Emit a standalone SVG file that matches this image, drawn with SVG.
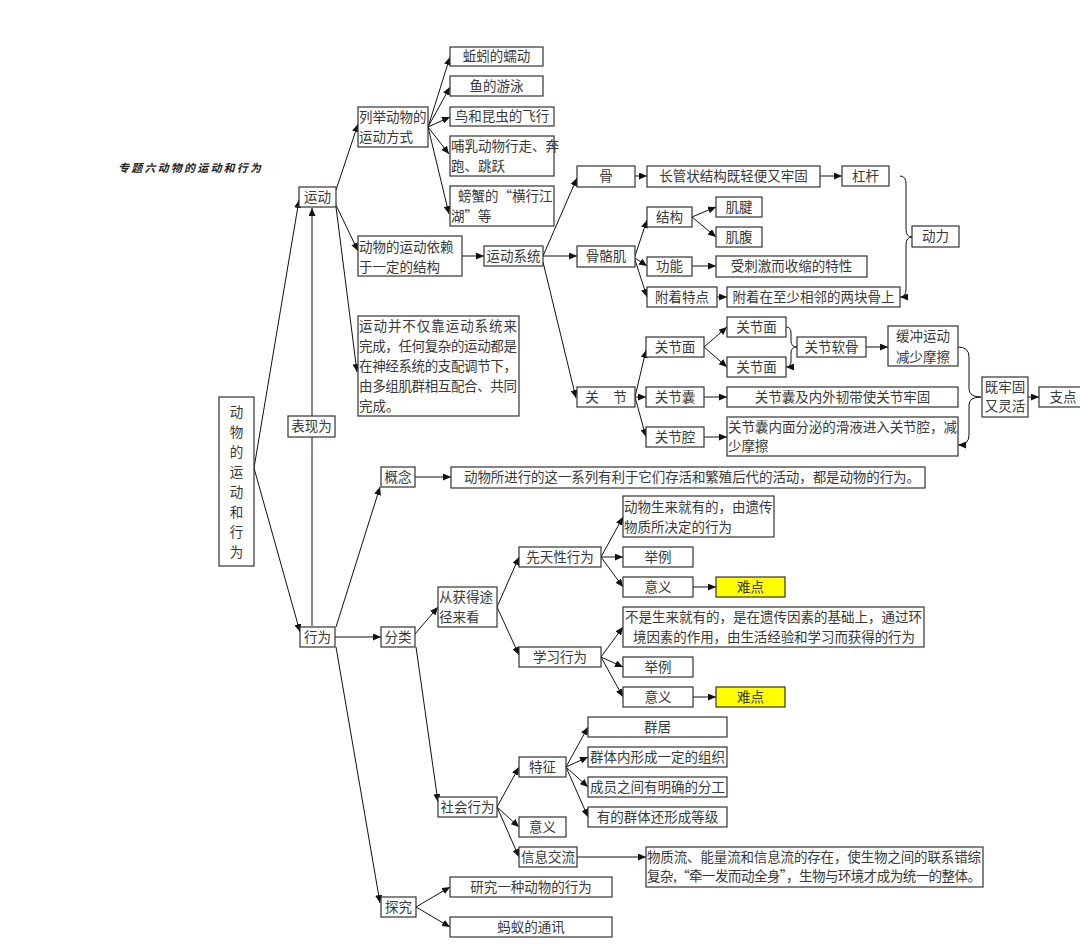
<svg xmlns="http://www.w3.org/2000/svg" width="1080" height="948" viewBox="0 0 1080 948">
<defs>
<marker id="ar" markerWidth="8" markerHeight="7" refX="8" refY="3.5" orient="auto" markerUnits="userSpaceOnUse"><path d="M0,0 L8,3.5 L0,7 z" fill="#111"/></marker>
<style>
rect{fill:#fff;stroke:#333;stroke-width:1.2}
rect.y{fill:#ffff00}
text{font-family:"Noto Sans CJK SC","Noto Sans",sans-serif;font-size:13.5px;fill:#383838}
.c{text-anchor:middle}
#conn path{fill:none;stroke:#111;stroke-width:1;marker-end:url(#ar)}
#conn path.nb{marker-end:none}
.br{fill:none;stroke:#222;stroke-width:1.1}
</style>
</defs>
<rect x="0" y="0" width="1080" height="948" style="fill:#fff;stroke:none"/>
<text x="118" y="172" style="font-size:11px;letter-spacing:2.2px;font-style:italic;font-weight:bold;fill:#222">专题六动物的运动和行为</text>

<g id="conn">
<path d="M254,468 L299,200"/>
<path d="M254,468 L300,632"/>
<path d="M312,626 L312,208"/>
<path d="M336,190 L358,124"/>
<path d="M336,205 L358,251"/>
<path d="M336,207 L357,372"/>
<path d="M428,127 L450,57"/>
<path d="M428,127 L450,87"/>
<path d="M428,127 L450,117"/>
<path d="M428,127 L449,154"/>
<path d="M428,127 L449,214"/>
<path d="M462,256 L484,256"/>
<path d="M543,256 L577,178"/>
<path d="M543,256 L577,256"/>
<path d="M543,262 L576,398"/>
<path d="M635,176 L647,176"/>
<path d="M820,176 L842,176"/>
<path d="M635,256 L647,220"/>
<path d="M635,258 L647,266"/>
<path d="M635,260 L647,297"/>
<path d="M692,217 L716,207"/>
<path d="M692,217 L716,237"/>
<path d="M692,266 L716,266"/>
<path d="M717,297 L727,297"/>
<path d="M635,397 L646,350"/>
<path d="M635,397 L646,397"/>
<path d="M635,397 L646,437"/>
<path d="M704,347 L727,327"/>
<path d="M704,347 L727,367"/>
<path d="M866,347 L888,347"/>
<path d="M704,397 L727,397"/>
<path d="M704,437 L727,437"/>
<path d="M1028,397 L1039,397"/>
<path d="M336,627 L380,487"/>
<path d="M335,637 L381,637"/>
<path d="M336,647 L380,903"/>
<path d="M415,477 L451,477"/>
<path d="M415,634 L438,607"/>
<path d="M416,647 L438,802"/>
<path d="M497,607 L519,557"/>
<path d="M497,607 L519,655"/>
<path d="M601,557 L623,517"/>
<path d="M601,557 L623,557"/>
<path d="M601,557 L623,587"/>
<path d="M601,657 L623,627"/>
<path d="M601,657 L623,667"/>
<path d="M601,657 L623,697"/>
<path d="M693,587 L716,587"/>
<path d="M693,697 L716,697"/>
<path d="M497,807 L519,767"/>
<path d="M497,807 L519,827"/>
<path d="M497,807 L519,857"/>
<path d="M566,767 L588,727"/>
<path d="M566,767 L588,757"/>
<path d="M566,767 L588,787"/>
<path d="M566,767 L588,817"/>
<path d="M577,857 L646,857"/>
<path d="M416,907 L450,887"/>
<path d="M416,907 L450,927"/>
<path class="br" d="M900,176 Q906,176 906,184 L906,229 Q906,237 912,237 Q906,237 906,245 L906,289 Q906,297 900,297"/>
<path class="br" d="M786,327 Q791,327 791,333 L791,341 Q791,347 797,347 Q791,347 791,353 L791,361 Q791,367 786,367"/>
<path class="br" d="M958,347 Q969,347 969,357 L969,389 Q969,397 981,397 Q969,397 969,405 L969,435 Q969,445 958,445"/>
</g>

<g id="n_root"><rect x="219" y="397" width="35" height="169"/>
<text class="c" x="236.5" y="417">动</text><text class="c" x="236.5" y="437">物</text><text class="c" x="236.5" y="457">的</text><text class="c" x="236.5" y="477">运</text><text class="c" x="236.5" y="497">动</text><text class="c" x="236.5" y="517">和</text><text class="c" x="236.5" y="537">行</text><text class="c" x="236.5" y="557">为</text></g>
<g id="n_biaoxian"><rect x="288" y="416" width="47" height="21"/><text class="c" x="311.5" y="431">表现为</text></g>
<g id="n_yundong"><rect x="299" y="187" width="37" height="20"/><text class="c" x="317.5" y="202">运动</text></g>
<g id="n_xingwei"><rect x="300" y="627" width="35" height="20"/><text class="c" x="317.5" y="642">行为</text></g>
<g id="n_liju"><rect x="358" y="107" width="70" height="40"/><text x="359" y="122">列举动物的</text><text x="359" y="142">运动方式</text></g>
<g id="n_qiuyin"><rect x="450" y="47" width="93" height="19"/><text class="c" x="496.5" y="61">蚯蚓的蠕动</text></g>
<g id="n_yu"><rect x="450" y="76" width="93" height="20"/><text class="c" x="496.5" y="91">鱼的游泳</text></g>
<g id="n_niao"><rect x="450" y="107" width="104" height="19"/><text class="c" x="502" y="121">鸟和昆虫的飞行</text></g>
<g id="n_buru"><rect x="450" y="136" width="104" height="40"/><text x="451" y="151">哺乳动物行走、奔</text><text x="451" y="171">跑、跳跃</text></g>
<g id="n_pangxie"><rect x="450" y="186" width="104" height="40"/><text x="458" y="201">螃蟹的“横行江</text><text x="451" y="221">湖”等</text></g>
<g id="n_yilai"><rect x="358" y="236" width="104" height="40"/><text x="359" y="252">动物的运动依赖</text><text x="359" y="272">于一定的结构</text></g>
<g id="n_bingfei"><rect x="358" y="316" width="161" height="100"/>
<text x="359" y="331" textLength="158" lengthAdjust="spacing">运动并不仅靠运动系统来</text>
<text x="359" y="351" textLength="158" lengthAdjust="spacing">完成，任何复杂的运动都是</text>
<text x="359" y="371" textLength="158" lengthAdjust="spacing">在神经系统的支配调节下，</text>
<text x="359" y="391" textLength="158" lengthAdjust="spacing">由多组肌群相互配合、共同</text>
<text x="359" y="411">完成。</text></g>
<g id="n_xitong"><rect x="484" y="246" width="59" height="20"/><text class="c" x="513.5" y="261">运动系统</text></g>
<g id="n_gu"><rect x="577" y="166" width="58" height="21"/><text class="c" x="606" y="181">骨</text></g>
<g id="n_changguan"><rect x="647" y="166" width="173" height="21"/><text class="c" x="733.5" y="181">长管状结构既轻便又牢固</text></g>
<g id="n_ganggan"><rect x="842" y="166" width="47" height="20"/><text class="c" x="865.5" y="181">杠杆</text></g>
<g id="n_gugeji"><rect x="577" y="246" width="58" height="21"/><text class="c" x="606" y="261">骨骼肌</text></g>
<g id="n_jiegou"><rect x="647" y="207" width="45" height="20"/><text class="c" x="669.5" y="222">结构</text></g>
<g id="n_jijian"><rect x="716" y="197" width="46" height="20"/><text class="c" x="739" y="212">肌腱</text></g>
<g id="n_jifu"><rect x="716" y="227" width="46" height="20"/><text class="c" x="739" y="242">肌腹</text></g>
<g id="n_gongneng"><rect x="647" y="257" width="45" height="19"/><text class="c" x="669.5" y="271">功能</text></g>
<g id="n_shouci"><rect x="716" y="256" width="151" height="21"/><text class="c" x="791.5" y="271">受刺激而收缩的特性</text></g>
<g id="n_fuzhe"><rect x="647" y="287" width="70" height="20"/><text class="c" x="682" y="302">附着特点</text></g>
<g id="n_fuzhezai"><rect x="727" y="287" width="173" height="20"/><text class="c" x="813.5" y="302">附着在至少相邻的两块骨上</text></g>
<g id="n_dongli"><rect x="912" y="226" width="47" height="21"/><text class="c" x="935.5" y="241">动力</text></g>
<g id="n_guanjie"><rect x="577" y="387" width="58" height="20"/><text class="c" x="592" y="402">关</text><text class="c" x="620" y="402">节</text></g>
<g id="n_gjm1"><rect x="646" y="337" width="58" height="20"/><text class="c" x="675" y="352">关节面</text></g>
<g id="n_gjn"><rect x="646" y="387" width="58" height="20"/><text class="c" x="675" y="402">关节囊</text></g>
<g id="n_gjq"><rect x="646" y="427" width="58" height="20"/><text class="c" x="675" y="442">关节腔</text></g>
<g id="n_gjm2"><rect x="727" y="317" width="59" height="20"/><text class="c" x="756.5" y="332">关节面</text></g>
<g id="n_gjm3"><rect x="727" y="357" width="59" height="20"/><text class="c" x="756.5" y="372">关节面</text></g>
<g id="n_rg"><rect x="797" y="337" width="69" height="20"/><text class="c" x="831.5" y="352">关节软骨</text></g>
<g id="n_hc"><rect x="888" y="326" width="70" height="40"/><text class="c" x="923" y="341">缓冲运动</text><text class="c" x="923" y="362">减少摩擦</text></g>
<g id="n_gjnj"><rect x="727" y="387" width="231" height="20"/><text class="c" x="842.5" y="402">关节囊及内外韧带使关节牢固</text></g>
<g id="n_hy"><rect x="727" y="417" width="231" height="39"/><text x="728" y="432" textLength="229" lengthAdjust="spacing">关节囊内面分泌的滑液进入关节腔，减</text><text x="728" y="451">少摩擦</text></g>
<g id="n_jlg"><rect x="982" y="377" width="46" height="40"/><text class="c" x="1005" y="392">既牢固</text><text class="c" x="1005" y="411">又灵活</text></g>
<g id="n_zd"><rect x="1039" y="387" width="50" height="20"/><text class="c" x="1063" y="402">支点</text></g>

<g id="n_gainian"><rect x="381" y="467" width="34" height="20"/><text class="c" x="398" y="482">概念</text></g>
<g id="n_gnl"><rect x="451" y="467" width="474" height="21"/><text x="464" y="482" textLength="456" lengthAdjust="spacing">动物所进行的这一系列有利于它们存活和繁殖后代的活动，都是动物的行为。</text></g>
<g id="n_fenlei"><rect x="381" y="627" width="34" height="20"/><text class="c" x="398" y="642">分类</text></g>
<g id="n_tujing"><rect x="438" y="587" width="59" height="40"/><text x="439" y="602">从获得途</text><text x="439" y="622">径来看</text></g>
<g id="n_xiantian"><rect x="519" y="547" width="82" height="20"/><text class="c" x="560" y="562">先天性行为</text></g>
<g id="n_xuexi"><rect x="519" y="647" width="82" height="20"/><text class="c" x="560" y="662">学习行为</text></g>
<g id="n_sl"><rect x="623" y="496" width="151" height="41"/><text x="624" y="512">动物生来就有的，由遗传</text><text x="624" y="532">物质所决定的行为</text></g>
<g id="n_jl1"><rect x="623" y="547" width="70" height="20"/><text class="c" x="658" y="562">举例</text></g>
<g id="n_yy1"><rect x="623" y="577" width="70" height="20"/><text class="c" x="658" y="592">意义</text></g>
<g id="n_nd1"><rect class="y" x="716" y="577" width="69" height="20"/><text class="c" x="750.5" y="592">难点</text></g>
<g id="n_bs"><rect x="623" y="607" width="301" height="40"/><text x="625" y="622" textLength="297" lengthAdjust="spacing">不是生来就有的，是在遗传因素的基础上，通过环</text><text x="633" y="642" textLength="282" lengthAdjust="spacing">境因素的作用，由生活经验和学习而获得的行为</text></g>
<g id="n_jl2"><rect x="623" y="657" width="70" height="20"/><text class="c" x="658" y="672">举例</text></g>
<g id="n_yy2"><rect x="623" y="687" width="70" height="20"/><text class="c" x="658" y="702">意义</text></g>
<g id="n_nd2"><rect class="y" x="716" y="687" width="69" height="20"/><text class="c" x="750.5" y="702">难点</text></g>
<g id="n_shehui"><rect x="438" y="797" width="59" height="20"/><text class="c" x="467.5" y="812">社会行为</text></g>
<g id="n_tezheng"><rect x="519" y="757" width="47" height="20"/><text class="c" x="542.5" y="772">特征</text></g>
<g id="n_yy3"><rect x="519" y="817" width="47" height="20"/><text class="c" x="542.5" y="832">意义</text></g>
<g id="n_xxjl"><rect x="519" y="847" width="58" height="20"/><text class="c" x="548" y="862">信息交流</text></g>
<g id="n_qj"><rect x="588" y="717" width="139" height="20"/><text class="c" x="657.5" y="732">群居</text></g>
<g id="n_qtn"><rect x="588" y="747" width="139" height="20"/><text class="c" x="657.5" y="762">群体内形成一定的组织</text></g>
<g id="n_cy"><rect x="588" y="777" width="139" height="20"/><text class="c" x="657.5" y="792">成员之间有明确的分工</text></g>
<g id="n_ydqt"><rect x="588" y="807" width="139" height="20"/><text class="c" x="657.5" y="822">有的群体还形成等级</text></g>
<g id="n_wzl"><rect x="646" y="847" width="337" height="40"/><text x="647" y="862" textLength="334" lengthAdjust="spacing">物质流、能量流和信息流的存在，使生物之间的联系错综</text><text x="647" y="881" textLength="334" lengthAdjust="spacing">复杂,“牵一发而动全身”，生物与环境才成为统一的整体。</text></g>
<g id="n_tanjiu"><rect x="381" y="897" width="35" height="20"/><text class="c" x="398.5" y="912">探究</text></g>
<g id="n_yj"><rect x="450" y="877" width="162" height="20"/><text class="c" x="531" y="892">研究一种动物的行为</text></g>
<g id="n_my"><rect x="450" y="917" width="162" height="20"/><text class="c" x="531" y="932">蚂蚁的通讯</text></g>
</svg>
